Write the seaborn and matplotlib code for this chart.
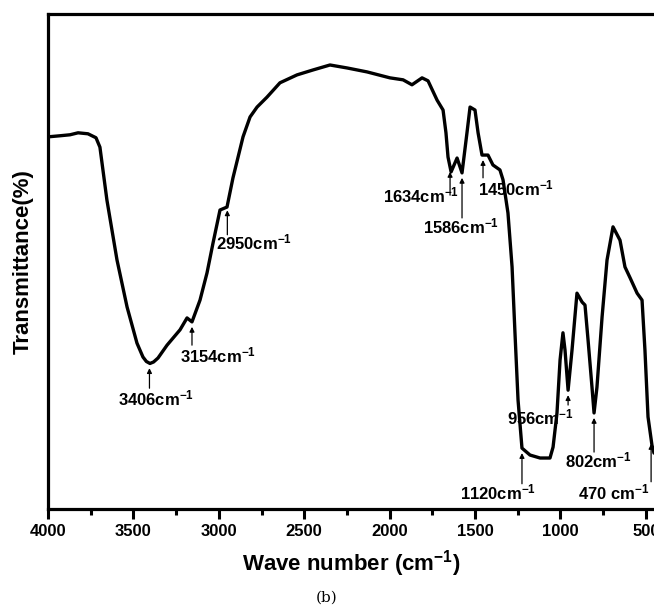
import numpy as np
import pandas as pd
import matplotlib
matplotlib.use('Agg')
import matplotlib.pyplot as plt
import seaborn as sns

# FTIR spectrum (wavenumber in cm-1, transmittance in arbitrary %)
wavenumber = [3994, 3930, 3871, 3824, 3766, 3719, 3696, 3655, 3596, 3537, 3479, 3444,
              3424, 3403, 3382, 3356, 3303, 3227, 3186, 3157, 3110, 3069, 3034, 2993,
              2952, 2917, 2858, 2817, 2776, 2718, 2642, 2542, 2448, 2349, 2249, 2132,
              1998, 1921, 1869, 1810, 1775, 1722, 1687, 1670, 1658, 1640, 1605, 1576,
              1547, 1529, 1500, 1482, 1459, 1424, 1395, 1354, 1336, 1307, 1283, 1266,
              1248, 1225, 1178, 1119, 1061, 1043, 1020, 1002, 985, 973, 955, 932,
              903, 873, 856, 838, 815, 803, 786, 756, 727, 692, 651, 622,
              592, 551, 522, 505, 487, 464, 452]
transmittance = [75.2, 75.4, 75.6, 76.0, 75.8, 75.0, 73.1, 62.4, 50.3, 40.8, 33.5, 30.7,
                 29.8, 29.4, 29.7, 30.5, 33.1, 36.2, 38.6, 37.8, 42.2, 47.7, 53.7, 60.4,
                 61.0, 66.9, 75.2, 79.2, 81.2, 83.2, 86.1, 87.7, 88.7, 89.7, 89.1, 88.3,
                 87.1, 86.7, 85.7, 87.1, 86.5, 82.6, 80.6, 76.0, 71.1, 68.1, 70.9, 67.9,
                 76.0, 81.2, 80.6, 76.0, 71.5, 71.5, 69.5, 68.5, 66.5, 59.8, 48.9, 35.6,
                 22.0, 12.3, 10.9, 10.3, 10.3, 12.5, 19.4, 30.1, 35.6, 32.1, 24.0, 32.1,
                 43.6, 41.8, 41.2, 34.1, 24.6, 19.4, 24.6, 38.8, 50.3, 57.0, 54.3, 48.9,
                 46.7, 43.6, 42.2, 32.1, 18.6, 12.9, 11.3]

# peak annotations: arrow position, label text
peak_pos = [3406, 3157, 2950, 1646, 1576, 1453, 955, 803, 1225, 469]
peak_labels = ['3406cm$^{-1}$', '3154cm$^{-1}$', '2950cm$^{-1}$', '1634cm$^{-1}$',
               '1586cm$^{-1}$', '1450cm$^{-1}$', '956cm$^{-1}$', '802cm$^{-1}$',
               '1120cm$^{-1}$', '470 cm$^{-1}$']
# arrow tail y and label anchor (left x, centre y)
arrow_tail = [24.4, 33.1, 55.4, 63.4, 58.8, 66.9, 21.0, 11.5, 5.1, 5.5]
label_x = [3590, 3227, 3016, 2039, 1804, 1482, 1313, 973, 1588, 897]
label_y = [22.4, 31.1, 53.9, 63.4, 57.0, 64.8, 18.4, 9.9, 3.4, 3.4]

df = pd.DataFrame({'wn': wavenumber, 'T': transmittance})

sns.set_style('ticks')
plt.rcParams['font.family'] = ['Liberation Sans', 'DejaVu Sans']
plt.rcParams['mathtext.fontset'] = 'custom'
plt.rcParams['mathtext.rm'] = 'Liberation Sans'
plt.rcParams['mathtext.bf'] = 'Liberation Sans:bold'
plt.rcParams['mathtext.default'] = 'bf'
plt.rcParams['text.color'] = 'black'
plt.rcParams['axes.labelcolor'] = 'black'
plt.rcParams['xtick.color'] = 'black'

fig = plt.figure(figsize=(6.54, 6.11), dpi=100)
ax = fig.add_axes([48 / 654, 102 / 611, 606 / 654, 495 / 611])

sns.lineplot(data=df, x='wn', y='T', sort=False, estimator=None,
             color='black', linewidth=2.4, ax=ax)
ax.lines[0].set_solid_joinstyle('round')
ax.lines[0].set_solid_capstyle('round')

ax.set_xlim(4000, 452)
ax.set_ylim(0, 100)
ax.set_xticks([4000, 3500, 3000, 2500, 2000, 1500, 1000, 500])
ax.set_xticks(np.arange(3750, 400, -500), minor=True)
ax.set_yticks([])
ax.tick_params(axis='x', which='major', length=7, width=2.2, direction='out',
               labelsize=12, pad=4, colors='black')
ax.tick_params(axis='x', which='minor', length=4, width=2.2, direction='out',
               colors='black')
for lab in ax.get_xticklabels():
    lab.set_fontweight('bold')

for side in ['left', 'bottom', 'top']:
    ax.spines[side].set_linewidth(2.3)
    ax.spines[side].set_color('black')
ax.spines['right'].set_visible(False)

ax.set_xlabel('Wave number (cm$^{-1}$)', fontsize=16, fontweight='bold', labelpad=6)
ax.set_ylabel('Transmittance(%)', fontsize=16, fontweight='bold', labelpad=10)

wn_sorted = np.array(wavenumber)[::-1]
t_sorted = np.array(transmittance)[::-1]
for pos, lab, tail, lx, ly in zip(peak_pos, peak_labels, arrow_tail, label_x, label_y):
    tip = np.interp(pos, wn_sorted, t_sorted) - 1.0
    ax.annotate('', xy=(pos, tip), xytext=(pos, tail),
                arrowprops=dict(arrowstyle='-|>', color='black', lw=0.9,
                                mutation_scale=7, shrinkA=0, shrinkB=0))
    ax.text(lx, ly, lab, fontsize=12, fontweight='bold', ha='left', va='center',
            color='black')

fig.text(327 / 654, 1 - 598 / 611, '(b)', family='DejaVu Serif', fontsize=11,
         ha='center', va='center', color='black')

fig.savefig('out.png', dpi=100)
